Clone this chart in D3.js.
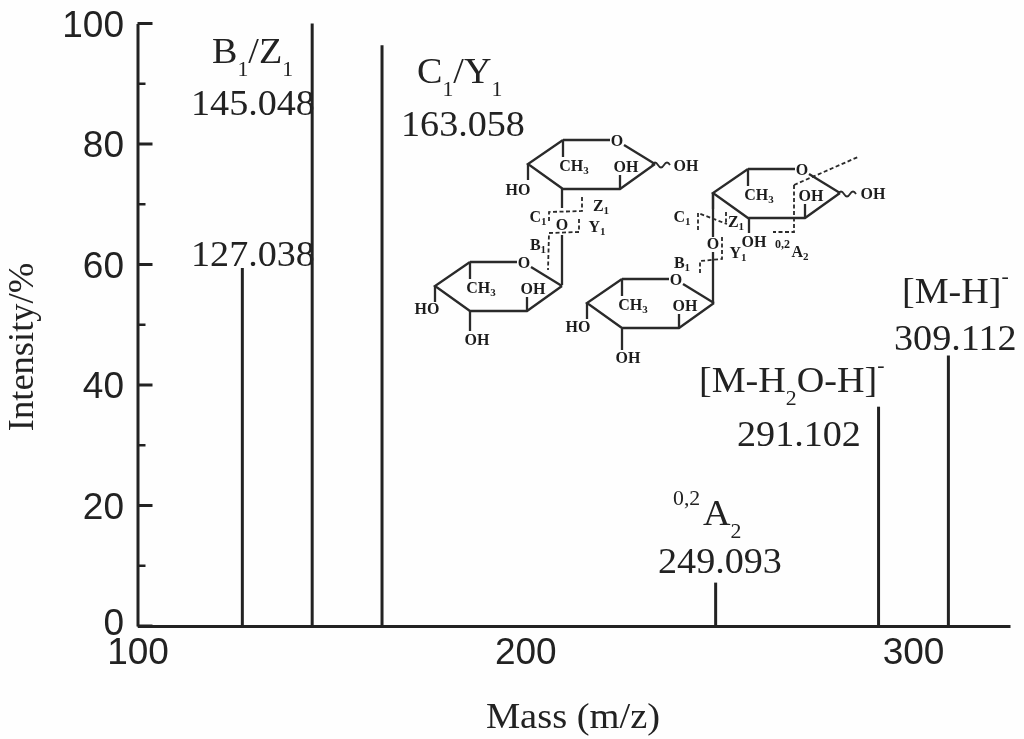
<!DOCTYPE html>
<html><head><meta charset="utf-8">
<script src="https://cdn.jsdelivr.net/npm/d3@7/dist/d3.min.js"></script>
<style>html,body{margin:0;padding:0;background:#fefefe}svg{display:block}</style>
</head><body><div id="chart"></div>
<script>
// Data
const peakMass = [127.038, 145.048, 163.058, 249.093, 291.102, 309.112];
const peakIntensity = [59.4, 100, 96.4, 7.2, 36.4, 44.9];
const xTickValues = [100, 200, 300];
const yTickValues = [0, 20, 40, 60, 80, 100];
const yMinorValues = [10, 30, 50, 70, 90];
const xTitle = "Mass (m/z)";
const yTitle = "Intensity/%";

const W = 1024, H = 739, INK = "#222";
const svg = d3.select("#chart").append("svg").attr("width", W).attr("height", H);
const defs = svg.append("defs");
defs.append("filter").attr("id", "soft").attr("x", "-5%").attr("y", "-5%").attr("width", "110%").attr("height", "110%")
  .append("feGaussianBlur").attr("stdDeviation", 0.5);
const root = svg.append("g").attr("filter", "url(#soft)");
root.append("rect").attr("width", W).attr("height", H).attr("fill", "#fefefe");

const x = d3.scaleLinear().domain([100, 325]).range([137.5, 1010]);
const y = d3.scaleLinear().domain([0, 100]).range([626, 23.5]);
const SANS = "'Liberation Sans',Arial,sans-serif", SERIF = "'Liberation Serif','Times New Roman',serif";

// Axes
const yAxis = root.append("g").attr("transform", `translate(${x(100)},0)`)
  .call(d3.axisLeft(y).tickValues(yTickValues).tickSize(0).tickPadding(13.5));
const xAxis = root.append("g").attr("transform", `translate(0,${y(0)})`)
  .call(d3.axisBottom(x).tickValues(xTickValues).tickSize(0).tickPadding(12).tickFormat(d3.format("d")));
[yAxis, xAxis].forEach(a => {
  a.select(".domain").attr("stroke", INK).attr("stroke-width", 3);
  a.selectAll("text").attr("font-family", SANS).attr("font-size", 37).attr("fill", INK);
});
yAxis.selectAll(".tick text").attr("dy", d => d === 0 ? "0.22em" : "0.35em");
xAxis.selectAll(".tick text").attr("dy", "0.71em");
root.append("g").selectAll("line").data(yTickValues).join("line")
  .attr("x1", x(100)).attr("x2", x(100) + 15).attr("y1", d => y(d)).attr("y2", d => y(d))
  .attr("stroke", INK).attr("stroke-width", 3);
root.append("g").selectAll("line").data(yMinorValues).join("line")
  .attr("x1", x(100)).attr("x2", x(100) + 8).attr("y1", d => y(d)).attr("y2", d => y(d))
  .attr("stroke", INK).attr("stroke-width", 2.5);

// Peaks
root.append("g").selectAll("line").data(peakMass).join("line")
  .attr("x1", d => x(d)).attr("x2", d => x(d))
  .attr("y1", y(0)).attr("y2", (d, i) => y(peakIntensity[i]))
  .attr("stroke", INK).attr("stroke-width", 3);

// Axis titles
root.append("text").attr("transform", "translate(573,728) scale(1.1,1)").attr("text-anchor", "middle")
  .attr("font-family", SERIF).attr("font-size", 35).attr("fill", INK).text(xTitle);
root.append("text").attr("transform", "translate(33,347) rotate(-90)").attr("text-anchor", "middle")
  .attr("font-family", SERIF).attr("font-size", 36.5).attr("fill", INK).text(yTitle);

// Peak annotations: runs of [text, baseline shift, size]
function label(px, py, runs, size = 35, sx = 1.09) {
  const t = root.append("text").attr("transform", `translate(${px},${py}) scale(${sx},1)`)
    .attr("font-family", SERIF).attr("font-size", size).attr("fill", INK);
  let prev = 0;
  runs.forEach(([s, shift = 0, fs = size]) => {
    t.append("tspan").attr("dy", shift - prev).attr("font-size", fs).text(s);
    prev = shift;
  });
}
label(212, 63, [["B"], ["1", 13, 20], ["/Z"], ["1", 13, 20]]);
label(191, 115, [["145.048"]]);
label(191, 266, [["127.038"]]);
label(417, 83, [["C"], ["1", 13, 20], ["/Y"], ["1", 13, 20]]);
label(401, 136, [["163.058"]]);
label(902, 303, [["[M-H]"], ["-", -20, 20]]);
label(894, 350, [["309.112"]]);
label(699, 392, [["[M-H"], ["2", 13, 20], ["O-H]"], ["-", -20, 20]]);
label(737, 446, [["291.102"]]);
label(673, 505, [["0,2", 0, 20]], 20);
label(703, 525, [["A"], ["2", 13, 20]]);
label(658, 573, [["249.093"]]);

// Inset structure
const chem = root.append("g");
const bond = (pts, dash) => chem.append("path")
  .attr("d", d3.line()(pts)).attr("fill", "none").attr("stroke", "#2a2a2a")
  .attr("stroke-width", dash ? 1.8 : 2.3).attr("stroke-dasharray", dash ? "4 2.5" : null);
const chemText = (px, py, s, sub) => {
  const t = chem.append("text").attr("x", px).attr("y", py).attr("text-anchor", "middle")
    .attr("font-family", SERIF).attr("font-weight", "bold").attr("font-size", 16).attr("fill", "#1c1c1c");
  t.append("tspan").text(s);
  if (sub) t.append("tspan").attr("dy", 3).attr("font-size", 11).text(sub);
};
const sugar = (ox, oy) => {
  bond([[ox + 35, oy - 24], [ox + 82, oy - 24]]);
  bond([[ox + 96, oy - 19], [ox + 127, oy]]);
  bond([[ox + 127, oy], [ox + 92, oy + 25], [ox + 35, oy + 25], [ox, oy], [ox + 35, oy - 24]]);
  bond([[ox + 35, oy - 24], [ox + 35, oy - 7]]);
  bond([[ox + 92, oy + 25], [ox + 92, oy + 11]]);
  bond([[ox, oy], [ox, oy + 16]]);
  chemText(ox + 89, oy - 18, "O");
  chemText(ox + 46, oy + 7, "CH", "3");
  chemText(ox + 98, oy + 8, "OH");
};
const tail = (ox, oy) => {
  chem.append("path").attr("d", `M${ox},${oy} q3,-5 6,0 t6,0 t6,0`).attr("fill", "none").attr("stroke", "#2a2a2a").attr("stroke-width", 1.8);
};

// upper-left disaccharide
sugar(528, 164);
tail(652, 165);
chemText(686, 171, "OH");
chemText(518, 195, "HO");
bond([[562, 189], [562, 208]]);
chemText(562, 230, "O");
bond([[562, 235], [562, 285]]);
sugar(435, 286);
chemText(427, 314, "HO");
bond([[470, 311], [470, 331]]);
chemText(477, 345, "OH");
bond([[582, 197], [582, 211], [549, 212], [549, 223]], true);
bond([[579, 219], [579, 232], [549, 233], [548, 270]], true);
chemText(538, 222, "C", "1");
chemText(601, 211, "Z", "1");
chemText(597, 232, "Y", "1");
chemText(538, 250, "B", "1");

// upper-right disaccharide
sugar(713, 193);
tail(838, 194);
chemText(873, 199, "OH");
bond([[749, 217], [749, 233]]);
chemText(754, 247, "OH");
bond([[713, 193], [713, 237]]);
chemText(713, 249, "O");
bond([[713, 252], [713, 303]]);
sugar(587, 303);
chemText(578, 332, "HO");
bond([[622, 329], [622, 350]]);
chemText(628, 363, "OH");
bond([[794, 185], [858, 157]], true);
bond([[794, 185], [794, 232], [773, 232]], true);
bond([[698, 230], [698, 213], [727, 224]], true);
bond([[726, 212], [726, 223]], true);
bond([[722, 237], [722, 259], [700, 261], [700, 275]], true);
chemText(682, 222, "C", "1");
chemText(736, 227, "Z", "1");
chemText(738, 258, "Y", "1");
chemText(682, 268, "B", "1");
chem.append("text").attr("x", 775).attr("y", 248).attr("font-family", SERIF).attr("font-weight", "bold")
  .attr("font-size", 12).attr("fill", "#1c1c1c").text("0,2");
chemText(800, 257, "A", "2");
</script></body></html>
